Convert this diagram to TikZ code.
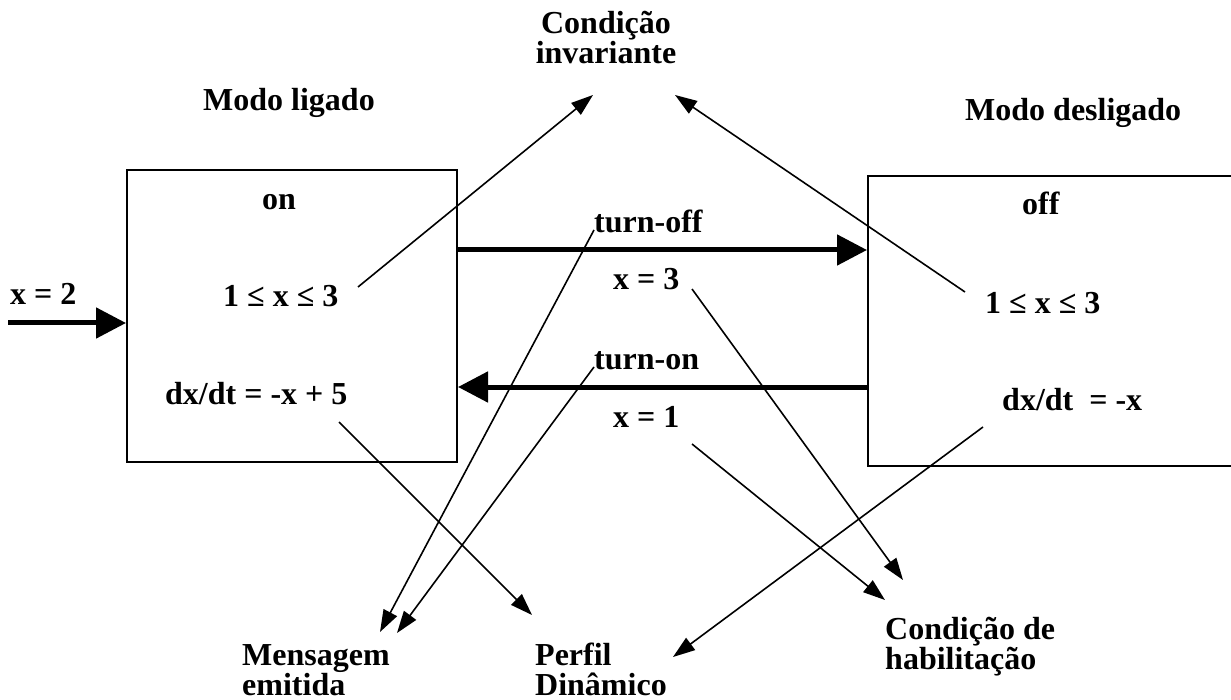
\documentclass[tikz,border=0pt]{standalone}
\usepackage{fontspec}
\setmainfont{Liberation Serif}
\usetikzlibrary{arrows.meta}
\begin{document}
\begin{tikzpicture}[x=1pt,y=-1pt,
  lbl/.style={font=\fontsize{32}{30}\selectfont\bfseries, inner sep=0pt, anchor=base west, align=left},
  ptr/.style={line width=1.6pt, -{Triangle[length=22pt,width=15pt]}},
  bigarrow/.style={line width=5pt, -{Triangle[length=30pt,width=30pt]}},
  modebox/.style={draw, line width=2pt, inner sep=0pt, anchor=north west}]
\useasboundingbox (0,0) rectangle (1231,700);
\clip (0,0) rectangle (1231,700);
\fill[white] (0,0) rectangle (1231,700);

% mode boxes
\node[modebox, minimum width=330pt, minimum height=292pt] (on) at (126,169) {};
\node[modebox, minimum width=370pt, minimum height=290pt] (off) at (867,175) {};

% titles
\node[lbl] (mlig) at (203,111) {Modo ligado};
\node[lbl] (mdes) at (965,121) {Modo desligado};
\node[lbl, align=center, anchor=base] (inv) at (606,64) {Condição\\invariante};

% texts inside boxes
\node[lbl] (ontxt) at (262,210) {on};
\node[lbl] (oninv) at (223,307) {1 ≤ x ≤ 3};
\node[lbl] (ondyn) at (165,404) {dx/dt = -x + 5};
\node[lbl] (offtxt) at (1022,215) {off};
\node[lbl] (offinv) at (985,314) {1 ≤ x ≤ 3};
\node[lbl] (offdyn) at (1002,410) {dx/dt\ \ = -x};

% transition labels
\node[lbl] (x2) at (10,305) {x = 2};
\node[lbl] (toff) at (594,233) {turn-off};
\node[lbl] (x3) at (613,290) {x = 3};
\node[lbl] (ton) at (594,370) {turn-on};
\node[lbl] (x1) at (613,427) {x = 1};

% bottom labels (base = last line)
\node[lbl] (msg) at (242,695) {Mensagem\\emitida};
\node[lbl] (perf) at (535,695) {Perfil\\Dinâmico};
\node[lbl] (hab) at (885,669) {Condição de\\habilitação};

% thick transitions
\coordinate (start) at (8,323);
\coordinate (offlvl) at (660,250);
\coordinate (onlvl) at (660,387);
\draw[bigarrow] (start) -- (on.west |- start);
\draw[bigarrow] (on.east |- offlvl) -- (off.west |- offlvl);
\draw[bigarrow] (off.west |- onlvl) -- (on.east |- onlvl);

% pointer start points
\coordinate (p1) at (358,287);
\coordinate (p2) at (965,292);
\coordinate (p3) at (339,422);
\coordinate (p4) at (594,230);
\coordinate (p5) at (594,367);
\coordinate (p6) at (692,289);
\coordinate (p7) at (692,444);
\coordinate (p8) at (983,427);
% pointer tips
\coordinate (t1) at (593,95);
\coordinate (t2) at (675,95);
\coordinate (t3) at (532,615);
\coordinate (t4) at (380,632);
\coordinate (t5) at (397,633);
\coordinate (t6) at (903,580);
\coordinate (t7) at (885,600);
\coordinate (t8) at (673,657);

\draw[ptr] (p1) -- (t1);
\draw[ptr] (p2) -- (t2);
\draw[ptr] (p3) -- (t3);
\draw[ptr] (p4) -- (t4);
\draw[ptr] (p5) -- (t5);
\draw[ptr] (p6) -- (t6);
\draw[ptr] (p7) -- (t7);
\draw[ptr] (p8) -- (t8);
\end{tikzpicture}
\end{document}
